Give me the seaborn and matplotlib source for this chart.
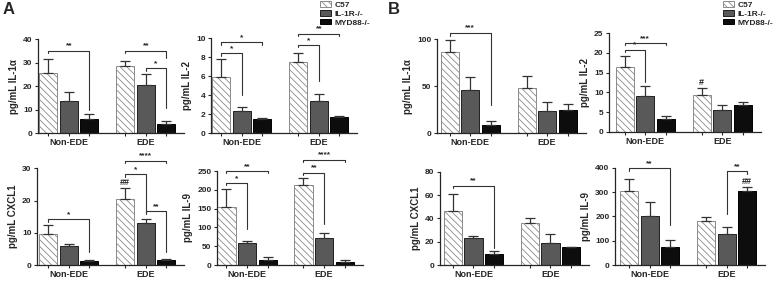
import numpy as np
import pandas as pd
import matplotlib
matplotlib.use("Agg")
import matplotlib.pyplot as plt
from matplotlib.container import BarContainer
import seaborn as sns

# group-major order: Non-EDE (C57, IL-1R-/-, MYD88-/-), EDE (C57, IL-1R-/-, MYD88-/-)
groups = ["Non-EDE", "EDE"]
genotypes = ["C57", "IL-1R-/-", "MYD88-/-"]

a_il1a_mean = [25.5, 13.8, 6.0, 28.5, 20.5, 3.8]
a_il1a_sem = [6.0, 3.7, 2.3, 2.3, 4.5, 1.4]
a_il2_mean = [5.9, 2.35, 1.55, 7.5, 3.45, 1.7]
a_il2_sem = [1.9, 0.45, 0.1, 1.0, 0.7, 0.15]
a_cxcl1_mean = [9.6, 5.9, 1.2, 20.6, 13.1, 1.5]
a_cxcl1_sem = [2.7, 0.6, 0.4, 3.4, 1.1, 0.3]
a_il9_mean = [154, 58, 13, 213, 71, 7]
a_il9_sem = [49, 6, 7, 18, 14, 5]

b_il1a_mean = [86, 46, 8.9, 48, 24, 25]
b_il1a_sem = [13, 13.6, 4.1, 13, 9, 6]
b_il2_mean = [16.5, 9.1, 3.1, 9.3, 5.4, 6.7]
b_il2_sem = [2.7, 2.6, 0.9, 1.9, 1.5, 0.8]
b_cxcl1_mean = [46, 23, 9.3, 36, 19.2, 15.3]
b_cxcl1_sem = [15, 2, 2.3, 4.4, 7, 0.5]
b_il9_mean = [305, 203, 72, 180, 126, 306]
b_il9_sem = [50, 55, 30, 17, 31, 14]

# significance brackets: (group, bar_i, bar_j, line_y, left_leg_end, right_leg_end, label)
a_il1a_sig = [(0, 0, 2, 35.0, 34.0, 10.0, "**"), (1, 0, 2, 35.0, 34.0, 32.0, "**"),
              (1, 1, 2, 27.7, 26.5, 10.6, "*")]
a_il2_sig = [(0, 0, 2, 9.6, 9.3, 9.3, "*"), (0, 0, 1, 8.4, 8.15, 4.0, "*"),
             (1, 0, 2, 10.5, 10.25, 10.25, "**"), (1, 0, 1, 9.3, 9.05, 5.5, "*")]
a_cxcl1_sig = [(0, 0, 2, 14.3, 13.4, 3.9, "*"), (1, 0, 2, 32.4, 31.6, 31.6, "****"),
               (1, 0, 1, 28.1, 27.3, 16.2, "*"), (1, 1, 2, 16.6, 15.9, 3.9, "**")]
a_il9_sig = [(0, 0, 2, 250, 245, 245, "**"), (0, 0, 1, 217, 212, 95, "*"),
             (1, 0, 2, 280, 275, 275, "****"), (1, 0, 1, 246, 240, 108, "**")]
b_il1a_sig = [(0, 0, 2, 107, 104, 30, "***")]
b_il2_sig = [(0, 0, 2, 22.5, 22.0, 22.0, "***"), (0, 0, 1, 20.8, 20.2, 12.5, "*")]
b_cxcl1_sig = [(0, 0, 2, 68, 66.3, 15, "**")]
b_il9_sig = [(0, 0, 2, 397, 386, 164, "**"), (1, 1, 2, 386, 211, 373, "**")]

# marks vs. non-EDE: (group, bar, label)
a_cxcl1_hash = [(1, 0, "##")]
b_il2_hash = [(1, 0, "#")]
b_il9_hash = [(1, 2, "##")]

W, H = 776, 281
fig = plt.figure(figsize=(W / 100, H / 100), dpi=100)
sns.set_style("ticks")
plt.rcParams["font.family"] = ["Liberation Sans", "DejaVu Sans"]
plt.rcParams["font.weight"] = "bold"
plt.rcParams["hatch.linewidth"] = 0.6

colors = ["white", "#595959", "#0d0d0d"]
edges = ["#8a8a8a", "#202020", "#000000"]
scale = 77.0


def make_ax(spine_x, top, bottom, xl):
    right = spine_x + (1.5 - xl) * scale
    ax = fig.add_axes([spine_x / W, 1 - bottom / H, (right - spine_x) / W, (bottom - top) / H])
    ax.set_xlim(xl, 1.5)
    return ax


def draw(ax, means, sems, ylabel, ymax, step, sigs, hashes):
    xl = ax.get_xlim()
    df = pd.DataFrame({
        "group": [g for g in groups for _ in genotypes],
        "genotype": genotypes * len(groups),
        "value": means,
    })
    sns.barplot(data=df, x="group", y="value", hue="genotype", order=groups,
                hue_order=genotypes, palette=colors, width=0.8, gap=0.12,
                errorbar=None, legend=False, ax=ax, zorder=2)
    bar_conts = [c for c in ax.containers if isinstance(c, BarContainer)]
    centers = {}
    for k, cont in enumerate(bar_conts):
        for g, bar in enumerate(cont):
            bar.set_facecolor(colors[k])
            bar.set_edgecolor(edges[k])
            bar.set_linewidth(0.7)
            if k == 0:
                bar.set_hatch("\\" * 5)
            cx = bar.get_x() + bar.get_width() / 2
            centers[(g, k)] = cx
            s = sems[g * 3 + k]
            ax.errorbar([cx], [bar.get_height()], yerr=[[0], [s]], fmt="none",
                        ecolor="#333333", elinewidth=0.9, capsize=3.5, capthick=0.9, zorder=3)
    ax.set_xlim(xl)
    ax.set_ylim(0, ymax)
    ax.set_yticks(np.arange(0, ymax + step / 2, step))
    xt = [centers[(g, k)] for g in range(2) for k in range(3)]
    ax.set_xticks(xt)
    ax.set_xticklabels(["", "Non-EDE", "", "", "EDE", ""], fontsize=6.5, fontweight="bold")
    ax.tick_params(axis="y", labelsize=6, length=2.5, width=0.8, pad=1.5)
    ax.tick_params(axis="x", length=2.5, width=0.8, pad=1.2)
    for lab in ax.get_yticklabels():
        lab.set_fontweight("bold")
    ax.set_xlabel("")
    ax.set_ylabel(ylabel, fontsize=7, fontweight="bold", labelpad=3)
    sns.despine(ax=ax)
    for sp in ["left", "bottom"]:
        ax.spines[sp].set_linewidth(0.9)

    for g, i, j, y, yl, yr, lab in sigs:
        x1, x2 = centers[(g, i)], centers[(g, j)]
        ax.plot([x1, x1, x2, x2], [yl, y, y, yr], color="#333333", lw=0.8,
                clip_on=False, zorder=4)
        ax.text((x1 + x2) / 2, y + ymax * 0.012, lab, ha="center", va="bottom",
                fontsize=6, fontweight="bold", clip_on=False)
    for g, k, lab in hashes:
        top = means[g * 3 + k] + sems[g * 3 + k]
        ax.text(centers[(g, k)], top + ymax * 0.01, lab, ha="center", va="bottom",
                fontsize=6.5, fontweight="bold", color="#222222")
    return bar_conts


ax = make_ax(38, 39, 133.3, -0.40)
draw(ax, a_il1a_mean, a_il1a_sem, "pg/mL IL-1\u03b1", 40, 10, a_il1a_sig, [])
ax = make_ax(211, 38.3, 133.3, -0.40)
legend_a = draw(ax, a_il2_mean, a_il2_sem, "pg/mL IL-2", 10, 2, a_il2_sig, [])
ax = make_ax(37, 168.3, 265, -0.41)
draw(ax, a_cxcl1_mean, a_cxcl1_sem, "pg/mL CXCL1", 30, 10, a_cxcl1_sig, a_cxcl1_hash)
ax = make_ax(217, 171, 265, -0.39)
draw(ax, a_il9_mean, a_il9_sem, "pg/mL IL-9", 250, 50, a_il9_sig, [])

ax = make_ax(437, 39.3, 133.3, -0.43)
draw(ax, b_il1a_mean, b_il1a_sem, "pg/mL IL-1\u03b1", 100, 50, b_il1a_sig, [])
ax = make_ax(609, 33.3, 131.7, -0.47)
legend_b = draw(ax, b_il2_mean, b_il2_sem, "pg/mL IL-2", 25, 5, b_il2_sig, b_il2_hash)
ax = make_ax(440, 171.7, 265, -0.435)
draw(ax, b_cxcl1_mean, b_cxcl1_sem, "pg/mL CXCL1", 80, 20, b_cxcl1_sig, [])
ax = make_ax(615, 167.7, 265, -0.45)
draw(ax, b_il9_mean, b_il9_sem, "pg/mL IL-9", 400, 100, b_il9_sig, b_il9_hash)

for handles, x0 in [(legend_a, 320), (legend_b, 723)]:
    fig.legend(handles=list(handles), labels=genotypes, loc="upper left",
               bbox_to_anchor=(x0 / W, 1 - 1.5 / H), frameon=False,
               prop={"weight": "bold", "size": 6}, handlelength=1.3, handleheight=0.6,
               handletextpad=0.4, labelspacing=0.15, borderpad=0.0, borderaxespad=0.0)

fig.text(3 / W, 1 - 2 / H, "A", fontsize=12, fontweight="bold", va="top", ha="left")
fig.text(388 / W, 1 - 2 / H, "B", fontsize=12, fontweight="bold", va="top", ha="left")

fig.savefig("out.png", dpi=100)
